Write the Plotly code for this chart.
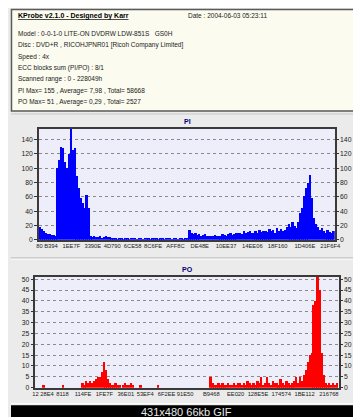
import plotly.graph_objects as go

W, H = 361, 417

# ---------------- data ----------------
header_title = "KProbe v2.1.0 - Designed by Karr"
header_date = "Date : 2004-06-03 05:23:11"
header_lines = [
    "Model : 0-0-1-0 LITE-ON DVDRW LDW-851S   GS0H",
    "Disc : DVD+R , RICOHJPNR01 [Ricoh Company Limited]",
    "Speed : 4x",
    "ECC blocks sum (PI/PO) : 8/1",
    "Scanned range : 0 - 228049h",
    "PI Max= 155 , Average= 7,98 , Total= 58668",
    "PO Max= 51 , Average= 0,29 , Total= 2527",
]

pi_values = (
    [18, 15, 12, 9, 8, 8, 7, 7, 6]
    + [100, 112, 130, 128, 109, 100, 120, 155, 125, 128, 90, 72, 58, 51, 44, 63, 45]
    + [5, 4, 5, 4, 4, 5, 3, 4, 5, 4, 4, 3, 3]
    + [2, 1, 2, 2, 1, 2, 2, 1, 2, 2, 3, 1, 2, 2, 1, 2, 2, 2, 1, 2, 3, 2, 1, 2, 2,
       1, 2, 2, 2, 1, 2, 2, 1, 2, 2, 1, 2, 2]
    + [14, 10]
    + [8, 9, 7, 8, 6, 7, 8, 6, 5, 6, 5, 7, 6, 5]
    + [6, 8, 7, 6, 8, 9, 7, 8, 10, 9]
    + [10, 8, 12, 9, 11, 13, 10, 9, 12, 10, 14, 11, 12]
    + [13, 11, 15, 12, 14, 10, 16, 13, 15, 12, 14, 18]
    + [22, 18, 25, 20, 16]
    + [25, 38, 45, 62, 72, 80, 91, 58, 30, 22]
    + [18, 14, 16, 12, 10, 14, 11, 9, 12]
)
pi_tick_text = ["80", "B394", "1EE7F", "3390E", "4D790", "6CE58", "8C6FE", "AFF8C",
                "DE48E", "10EE37", "14EE06", "18F160", "1D406E", "21F6F4"]
pi_tick_index = [-0.3, 5.65, 16.15, 27.15, 37.15, 47.65, 58.15, 69.65,
                 82.15, 95.65, 109.15, 122.15, 136.15, 149.15]

po_values = (
    [0, 0, 0, 0, 1, 0, 0, 0, 0, 0, 0, 0, 0, 0, 1, 0, 0, 0, 0, 0, 0, 0, 0, 0]
    + [2, 1, 3, 2, 3, 2, 3, 4, 5, 5, 7, 12, 8, 4]
    + [2, 1, 1, 2, 1, 1, 0, 1, 2, 1, 1, 2, 1]
    + [0, 0, 0, 1, 0, 0, 0, 0, 0, 0, 0, 0, 1, 0, 0, 0, 0, 0, 0, 0, 0, 0, 0, 0, 0, 0, 0]
    + [0, 0, 0, 0, 0, 0, 0, 0, 0, 0, 0, 0]
    + [5]
    + [2, 1, 1, 2, 1, 2, 1, 1, 2, 1, 1, 2, 1, 2, 2, 1, 2, 1, 3, 2, 1]
    + [2, 1, 3, 2, 5, 1, 2, 5, 2, 1, 3, 2, 2, 1, 4, 2, 1, 3, 2, 1, 2, 3, 5, 2, 5, 3]
    + [6, 8, 12, 15, 16, 38, 40, 51, 45, 16, 6, 2, 1, 2, 1, 2, 1, 2]
)
po_tick_text = ["12", "28E4", "8118", "114FE", "1FE7F", "36E01", "53EF4", "6F2EE",
                "91E50", "B9468", "EE020", "128E5E", "174574", "1BE112", "216768"]
po_tick_index = [-0.4, 5.5, 13.5, 24, 35, 46, 56, 67, 76.5, 90, 102.5, 114, 126, 138, 150.5]

pi_y_ticks = [0, 20, 40, 60, 80, 100, 120, 140]
po_y_ticks = [0, 5, 10, 15, 20, 25, 30, 35, 40, 45, 50]
pi_y_max = 155
po_y_max = 51

caption = "431x480 66kb GIF"

# ---------------- layout helpers ----------------
def px_x(x):
    return x / W

def px_y(y):
    return 1 - y / H

FONT = "Liberation Sans"
PANEL = "#ebebeb"
PLOTBG = "#eeeefa"
FRAME = "#3a3a3a"
GRID = "#8a8a8a"

fig = go.Figure()

fig.add_trace(go.Bar(x=list(range(len(pi_values))), y=pi_values,
                     marker=dict(color="#0000ff", line=dict(width=0)),
                     xaxis="x", yaxis="y", showlegend=False, hoverinfo="skip"))
fig.add_trace(go.Bar(x=list(range(len(po_values))), y=po_values,
                     marker=dict(color="#ff0000", line=dict(width=0)),
                     xaxis="x2", yaxis="y2", showlegend=False, hoverinfo="skip"))
# helper traces so the right-hand axes render
fig.add_trace(go.Scatter(x=[0], y=[0], xaxis="x", yaxis="y3", mode="markers",
                         marker=dict(opacity=0), showlegend=False, hoverinfo="skip"))
fig.add_trace(go.Scatter(x=[0], y=[0], xaxis="x2", yaxis="y4", mode="markers",
                         marker=dict(opacity=0), showlegend=False, hoverinfo="skip"))

pi_dom_x = [px_x(28.7), px_x(332)]
pi_dom_y = [px_y(233), px_y(121)]
po_dom_x = [px_x(25), px_x(336)]
po_dom_y = [px_y(382.3), px_y(270.7)]

ytickfont = dict(family=FONT, size=6.8, color="#222222")
xtickfont = dict(family=FONT, size=5.8, color="#222222")

def xaxis(dom, anchor, n, tv, tt):
    return dict(domain=dom, anchor=anchor, range=[-0.5, n - 0.5],
                tickmode="array", tickvals=tv, ticktext=tt, ticks="",
                tickangle=0, tickfont=xtickfont, showgrid=False, zeroline=False,
                showline=True, linecolor=FRAME, linewidth=1.5, mirror=True,
                fixedrange=True)

def yaxis(dom, anchor, ymax, tv, side, overlaying=None):
    d = dict(domain=dom, anchor=anchor, range=[0, ymax], tickmode="array",
             tickvals=tv, ticks="outside", ticklen=3, tickcolor="#333333",
             tickfont=ytickfont, side=side, zeroline=False, fixedrange=True)
    if overlaying:
        d.update(overlaying=overlaying, showgrid=False, showline=False)
    else:
        d.update(showgrid=True, gridcolor=GRID, griddash="dot", gridwidth=1,
                 showline=True, linecolor=FRAME, linewidth=1.5, mirror=True)
    return d

fig.update_layout(
    width=W, height=H, margin=dict(l=0, r=0, t=0, b=0),
    paper_bgcolor=PANEL, plot_bgcolor=PLOTBG,
    bargap=0, barmode="overlay",
    xaxis=xaxis(pi_dom_x, "y", len(pi_values), pi_tick_index, pi_tick_text),
    yaxis=yaxis(pi_dom_y, "x", pi_y_max, pi_y_ticks, "left"),
    yaxis3=yaxis(pi_dom_y, "x", pi_y_max, pi_y_ticks, "right", overlaying="y"),
    xaxis2=xaxis(po_dom_x, "y2", len(po_values), po_tick_index, po_tick_text),
    yaxis2=yaxis(po_dom_y, "x2", po_y_max, po_y_ticks, "left"),
    yaxis4=yaxis(po_dom_y, "x2", po_y_max, po_y_ticks, "right", overlaying="y2"),
)

shapes = [
    # header box
    dict(type="rect", xref="paper", yref="paper", x0=px_x(0.5), x1=px_x(360.5),
         y0=px_y(103), y1=px_y(0.5), fillcolor="#fbfbef",
         line=dict(color="#5a5a5a", width=1.5), layer="below"),
    # panel separators
    dict(type="line", xref="paper", yref="paper", x0=0, x1=1, y0=px_y(106), y1=px_y(106),
         line=dict(color="#c8c8c8", width=1)),
    dict(type="line", xref="paper", yref="paper", x0=0, x1=1, y0=px_y(251.5), y1=px_y(251.5),
         line=dict(color="#a8a8a8", width=1)),
    dict(type="line", xref="paper", yref="paper", x0=0, x1=1, y0=px_y(252.5), y1=px_y(252.5),
         line=dict(color="#ffffff", width=1)),
    dict(type="line", xref="paper", yref="paper", x0=0, x1=1, y0=px_y(398.5), y1=px_y(398.5),
         line=dict(color="#ffffff", width=1)),
    # black caption bar
    dict(type="rect", xref="paper", yref="paper", x0=0, x1=1, y0=0, y1=px_y(400),
         fillcolor="#000000", line=dict(width=0)),
]
fig.update_layout(shapes=shapes)

hfont = dict(family=FONT, size=6.5, color="#1a1a1a")
ann = [
    dict(x=px_x(5), y=px_y(7), text="<u><b>" + header_title + "</b></u>",
         font=dict(family=FONT, size=7, color="#000000")),
    dict(x=px_x(179), y=px_y(7), text=header_date, font=hfont),
]
line_y = [25, 36.5, 48, 59.5, 71, 82.5, 94]
for t, yy in zip(header_lines, line_y):
    ann.append(dict(x=px_x(5), y=px_y(yy), text=t, font=hfont))
for a in ann:
    a.update(xref="paper", yref="paper", xanchor="left", yanchor="middle",
             showarrow=False)

ann.append(dict(x=px_x(180.5), y=px_y(114), text="<b>PI</b>", xref="paper", yref="paper",
                showarrow=False, xanchor="center", yanchor="middle",
                font=dict(family=FONT, size=7, color="#000080")))
ann.append(dict(x=px_x(180.5), y=px_y(263), text="<b>PO</b>", xref="paper", yref="paper",
                showarrow=False, xanchor="center", yanchor="middle",
                font=dict(family=FONT, size=7, color="#000080")))
ann.append(dict(x=px_x(180), y=px_y(407), text=caption, xref="paper", yref="paper",
                showarrow=False, xanchor="center", yanchor="middle", borderpad=0,
                font=dict(family=FONT, size=11, color="#e8e8e8")))
fig.update_layout(annotations=ann)

fig.write_html("out.html")
